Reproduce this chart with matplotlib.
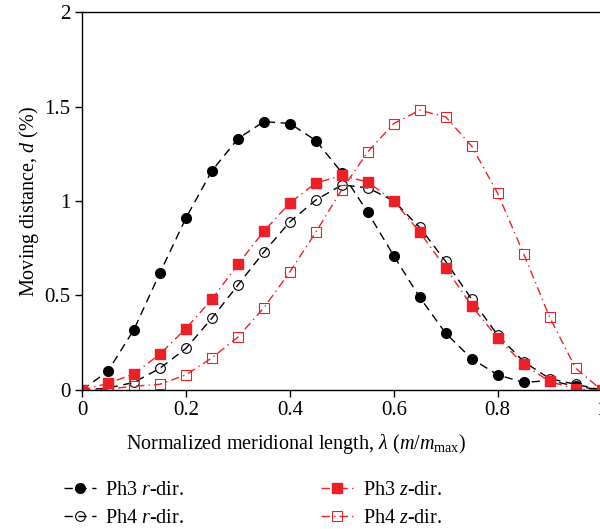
"""Moving distance along the normalized meridional length (Ph3/Ph4, r and z directions)."""

import matplotlib
matplotlib.use("Agg")
import matplotlib.pyplot as plt

plt.rcParams["font.family"] = "Liberation Serif"
plt.rcParams["mathtext.fontset"] = "custom"
plt.rcParams["mathtext.rm"] = "Liberation Serif"
plt.rcParams["mathtext.it"] = "Liberation Serif:italic"

lam = [0.0, 0.05, 0.1, 0.15, 0.2, 0.25, 0.3, 0.35, 0.4, 0.45, 0.5,
       0.55, 0.6, 0.65, 0.7, 0.75, 0.8, 0.85, 0.9, 0.95, 1.0]

ph3_r = [0.0, 0.10, 0.32, 0.62, 0.91, 1.16, 1.33, 1.42, 1.41, 1.32, 1.15,
         0.94, 0.71, 0.49, 0.30, 0.165, 0.08, 0.04, 0.05, 0.02, 0.0]
ph4_r = [0.0, 0.01, 0.04, 0.115, 0.22, 0.38, 0.555, 0.73, 0.89, 1.005, 1.085,
         1.07, 1.0, 0.86, 0.68, 0.48, 0.29, 0.15, 0.06, 0.03, 0.0]
ph3_z = [0.0, 0.035, 0.085, 0.19, 0.325, 0.48, 0.665, 0.84, 0.99, 1.095, 1.135,
         1.10, 1.0, 0.835, 0.645, 0.445, 0.275, 0.135, 0.045, 0.005, 0.0]
ph4_z = [0.0, 0.005, 0.02, 0.03, 0.08, 0.17, 0.28, 0.435, 0.625, 0.835, 1.06,
         1.26, 1.41, 1.48, 1.445, 1.29, 1.04, 0.72, 0.385, 0.115, 0.0]

RED = "#ED2027"
dashed = (0, (6, 4))
dashdot = (0, (6, 3, 1, 3))

fig = plt.figure(figsize=(6.0, 5.29), dpi=100)
ax = fig.add_axes([0.1367, 0.2628, 0.866, 0.7145])

ax.plot(lam, ph3_r, color="black", linestyle=dashed, linewidth=1.0,
        marker="o", markersize=7, markerfacecolor="black", label="Ph3 $r$-dir.")
ax.plot(lam, ph4_r, color="black", linestyle=dashed, linewidth=1.0,
        marker="o", markersize=7, markerfacecolor="none", markeredgewidth=0.8,
        label="Ph4 $r$-dir.")
ax.plot(lam, ph3_z, color=RED, linestyle=dashdot, linewidth=1.0,
        marker="s", markersize=6.5, markerfacecolor=RED, label="Ph3 $z$-dir.")
ax.plot(lam, ph4_z, color=RED, linestyle=dashdot, linewidth=1.0,
        marker="s", markersize=6.5, markerfacecolor="none", markeredgewidth=0.8,
        label="Ph4 $z$-dir.")

ax.set_xlim(0, 1)
ax.set_ylim(0, 2)
ax.set_xticks([0, 0.2, 0.4, 0.6, 0.8, 1.0])
ax.set_xticklabels(["0", "0.2", "0.4", "0.6", "0.8", "1"])
ax.set_yticks([0, 0.5, 1, 1.5, 2])
ax.set_yticklabels(["0", "0.5", "1", "1.5", "2"])
ax.tick_params(labelsize=15, direction="out", length=5, width=1)
ax.tick_params(axis="x", pad=3)
for s in ax.spines.values():
    s.set_linewidth(1.0)

ax.set_xlabel(r"Normalized meridional length, $\lambda$ ($m/m_{\rm max}$)",
              fontsize=14.5)
ax.xaxis.set_label_coords(0.412, -0.11)
ax.set_ylabel("Moving distance, $d$ (%)", fontsize=14.5, labelpad=2)

fig.legend(loc="lower left", bbox_to_anchor=(0.105, 0.0), ncol=2, frameon=False,
           fontsize=14.5, handlelength=1.6, columnspacing=6.8, labelspacing=0.45,
           handletextpad=0.45, borderpad=0.05, borderaxespad=0.0)

fig.savefig("out.png", dpi=100)
